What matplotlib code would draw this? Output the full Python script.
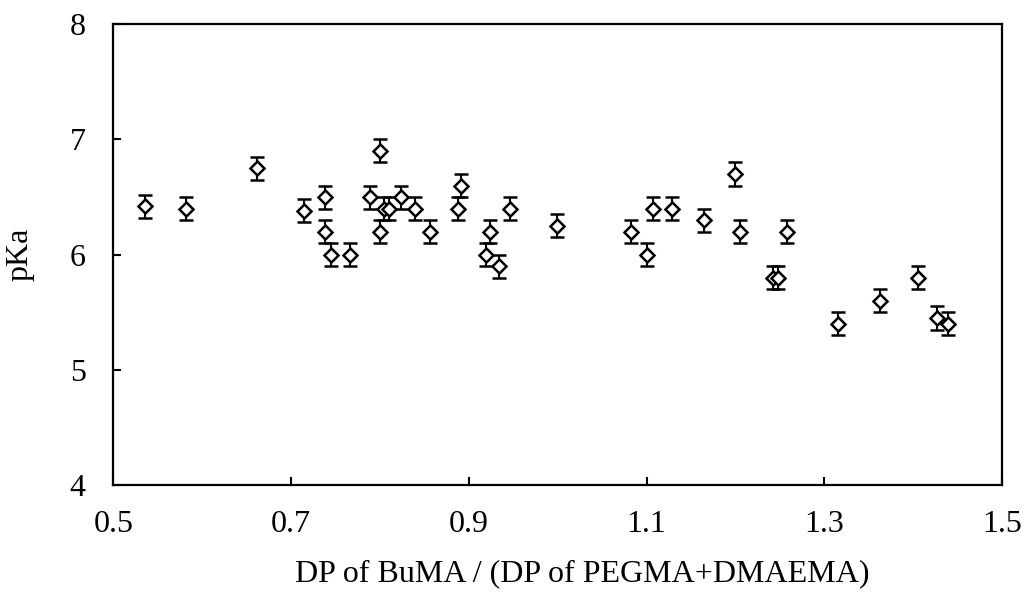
import matplotlib
matplotlib.use('Agg')
import matplotlib.pyplot as plt

# data
ratio = [0.536, 0.582, 0.661, 0.714, 0.738, 0.738, 0.745, 0.766, 0.800, 0.789,
         0.800, 0.804, 0.810, 0.824, 0.839, 0.856, 0.891, 0.888, 0.924, 0.919,
         0.934, 0.946, 0.999, 1.082, 1.100, 1.107, 1.129, 1.165, 1.199, 1.205,
         1.258, 1.242, 1.248, 1.316, 1.363, 1.406, 1.427, 1.439]
pka = [6.42, 6.40, 6.75, 6.38, 6.50, 6.20, 6.00, 6.00, 6.90, 6.50,
       6.20, 6.40, 6.40, 6.50, 6.40, 6.20, 6.60, 6.40, 6.20, 6.00,
       5.90, 6.40, 6.25, 6.20, 6.00, 6.40, 6.40, 6.30, 6.70, 6.20,
       6.20, 5.80, 5.80, 5.40, 5.60, 5.80, 5.45, 5.40]
err = [0.1] * len(pka)

plt.rcParams['font.family'] = 'Liberation Serif'

fig = plt.figure(figsize=(10.24, 5.92), dpi=100)
ax = fig.add_axes([0.1108, 0.1807, 0.8677, 0.7783])

ax.errorbar(ratio, pka, yerr=err, fmt='D', ms=7.5, mfc='white', mec='black', mew=1.8,
            ecolor='black', elinewidth=1.5, capsize=5, capthick=1.5)

ax.set_xlim(0.5, 1.5)
ax.set_ylim(4, 8)
ax.set_xticks([0.5, 0.7, 0.9, 1.1, 1.3, 1.5])
ax.set_xticklabels(['0.5', '0.7', '0.9', '1.1', '1.3', '1.5'])
ax.set_yticks([4, 5, 6, 7, 8])
ax.tick_params(direction='in', length=6, width=1.5, labelsize=23)
ax.tick_params(axis='x', pad=18)
ax.tick_params(axis='y', pad=20)
for s in ax.spines.values():
    s.set_linewidth(1.6)

ax.set_xlabel('DP of BuMA / (DP of PEGMA+DMAEMA)', fontsize=23)
ax.xaxis.set_label_coords(0.528, -0.162)
ax.set_ylabel('pKa', fontsize=23, labelpad=25)

fig.savefig('out.png', dpi=100)
